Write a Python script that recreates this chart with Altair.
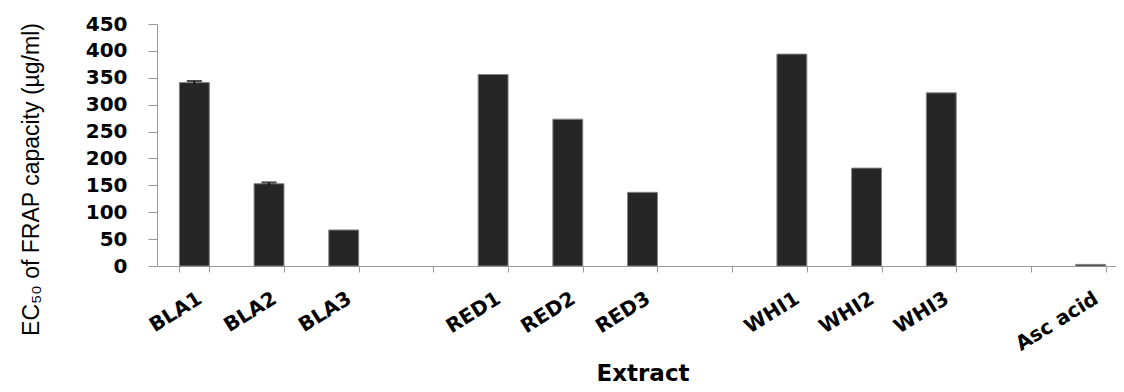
import altair as alt
import pandas as pd

categories = ["BLA1", "BLA2", "BLA3", "RED1", "RED2", "RED3", "WHI1", "WHI2", "WHI3", "Asc acid"]
values = [341, 153, 67, 356, 273, 137, 394, 182, 322, 3]
errors = [3, 2.5, 0, 0, 0, 0, 0, 0, 0, 0]
x_order = ["BLA1", "BLA2", "BLA3", " ", "RED1", "RED2", "RED3", "  ", "WHI1", "WHI2", "WHI3", "   ", "Asc acid"]
y_ticks = [0, 50, 100, 150, 200, 250, 300, 350, 400, 450]

df = pd.DataFrame({"Extract": categories, "value": values, "err": errors})
df["lo"] = df["value"] - df["err"]
df["hi"] = df["value"] + df["err"]
df_err = df[df["err"] > 0]

GRAY = "#9a9a9a"

xscale = alt.Scale(domain=x_order, range=[0, 971], paddingInner=0.6, paddingOuter=0.3)
yscale = alt.Scale(domain=[0, 450], nice=False, zero=True)

xaxis = alt.Axis(
    title="Extract", tickBand="extent", labelAngle=-32, labelAlign="right",
    labelBaseline="top", labelFont="DejaVu Sans", labelFontWeight="bold",
    labelFontSize=20, labelColor="black", labelPadding=16, labelOffset=0,
    tickSize=6, tickColor=GRAY, domainColor=GRAY, labelOverlap=False,
    titleFont="DejaVu Sans", titleFontWeight="bold", titleFontSize=23,
    titleY=114, titleBaseline="alphabetic", titleColor="black",
)
yaxis = alt.Axis(
    title="EC₅₀ of FRAP capacity (µg/ml)", values=y_ticks, grid=False,
    tickSize=9, tickColor=GRAY, domainColor=GRAY,
    labelFont="DejaVu Sans", labelFontWeight="bold", labelFontSize=20,
    labelColor="black", labelPadding=21,
    titleFont="Liberation Sans", titleFontSize=23, titleFontWeight="normal",
    titleX=-119, titleY=155, titleAngle=-90, titleAlign="center",
    titleBaseline="alphabetic", titleColor="black",
)

bars = alt.Chart(df).mark_bar(color="#262626", stroke="#808080", strokeWidth=1).encode(
    x=alt.X("Extract:N", scale=xscale, axis=xaxis),
    y=alt.Y("value:Q", scale=yscale, axis=yaxis),
)
rules = alt.Chart(df_err).mark_rule(color="black", strokeWidth=1.5).encode(
    x=alt.X("Extract:N", scale=xscale, axis=xaxis),
    y=alt.Y("lo:Q", scale=yscale, axis=yaxis),
    y2="hi:Q",
)
caps = alt.Chart(df_err).mark_tick(color="black", thickness=2, size=15).encode(
    x=alt.X("Extract:N", scale=xscale, axis=xaxis),
    y=alt.Y("hi:Q", scale=yscale, axis=yaxis),
)

chart = alt.layer(bars, rules, caps).properties(
    width=959, height=242,
    autosize=alt.AutoSizeParams(type="none"),
    padding={"left": 149, "top": 16, "right": 0, "bottom": 118},
).configure_view(strokeWidth=0)

chart.save("out.html", embed_options={"renderer": "svg", "actions": False})
